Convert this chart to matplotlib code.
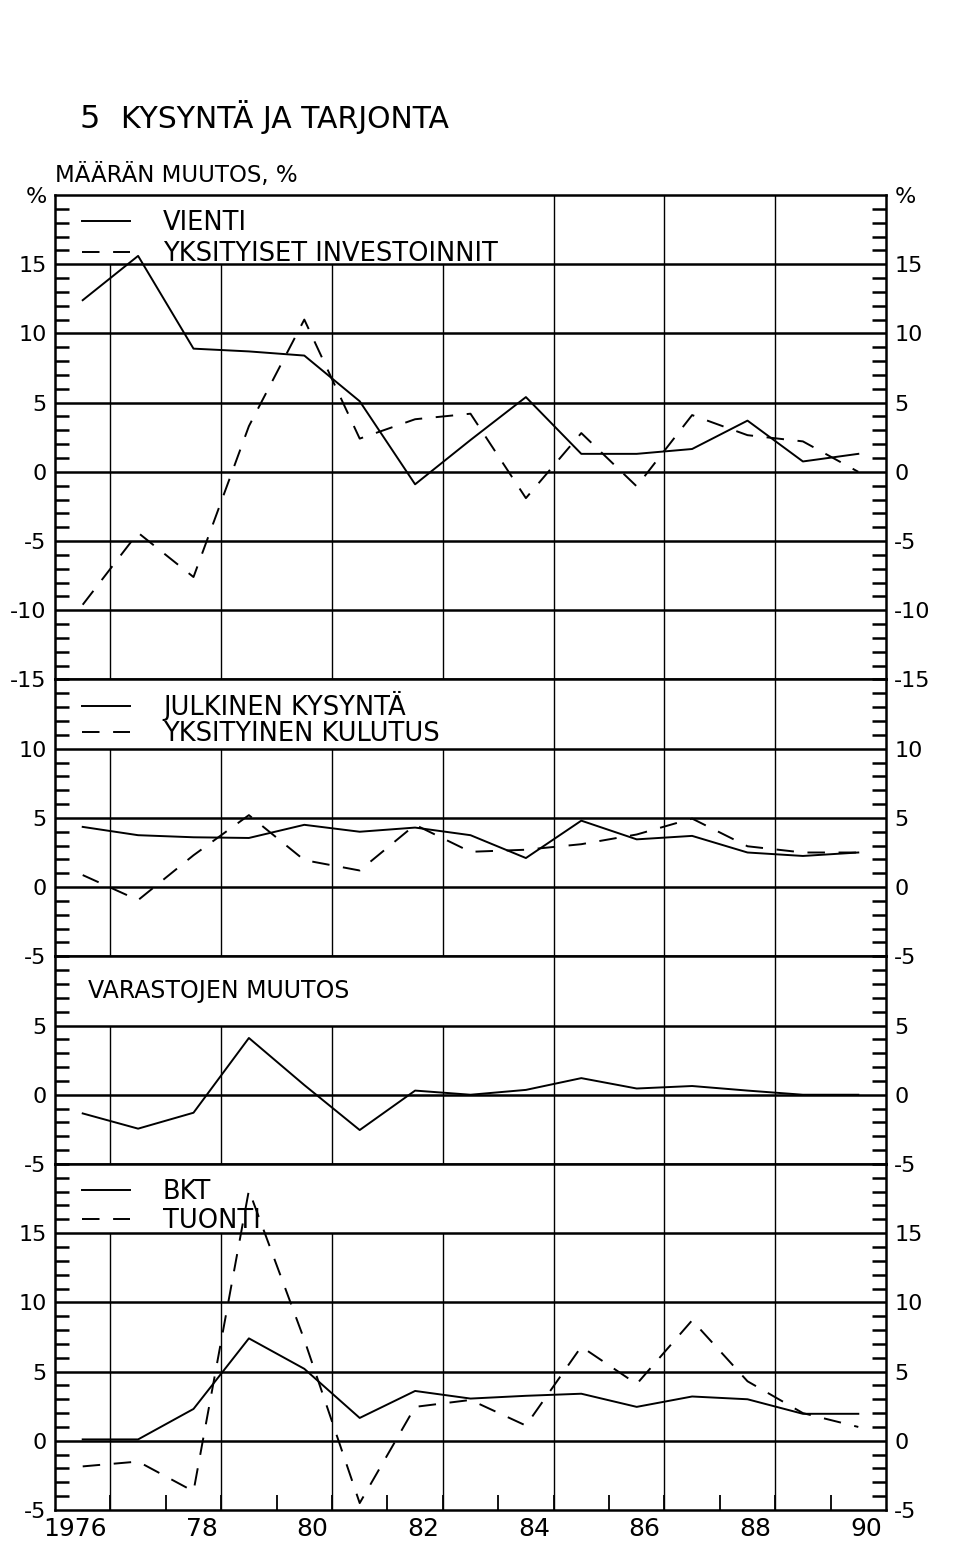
import matplotlib
matplotlib.use('Agg')
import matplotlib.pyplot as plt
import numpy as np
from matplotlib.transforms import ScaledTranslation

plt.rcParams['font.family'] = ['DejaVu Sans']
plt.rcParams['axes.unicode_minus'] = False

# vuodet 1976-1990, pisteet vuoden keskelle
vuodet = np.arange(1976, 1991)

vienti = [12.4, 15.6, 8.9, 8.7, 8.4, 5.1, -0.9, 2.3, 5.4, 1.3, 1.3, 1.65, 3.7, 0.75, 1.3]
investoinnit = [-9.6, -4.4, -7.6, 3.3, 11.0, 2.4, 3.8, 4.2, -1.9, 2.8, -1.05, 4.1, 2.65, 2.2, 0.0]

julkinen = [4.35, 3.75, 3.6, 3.55, 4.5, 4.0, 4.3, 3.75, 2.1, 4.8, 3.45, 3.7, 2.5, 2.25, 2.5]
kulutus = [0.87, -0.94, 2.3, 5.2, 1.95, 1.2, 4.5, 2.55, 2.7, 3.1, 3.8, 4.95, 2.95, 2.5, 2.5]

varastot = [-1.35, -2.45, -1.3, 4.1, 0.7, -2.55, 0.3, 0.0, 0.35, 1.2, 0.45, 0.63, 0.3, 0.0, 0.0]

bkt = [0.1, 0.1, 2.3, 7.4, 5.2, 1.65, 3.6, 3.05, 3.25, 3.4, 2.45, 3.2, 3.0, 1.95, 1.95]
tuonti = [-1.85, -1.5, -3.65, 18.1, 7.3, -4.5, 2.45, 2.95, 1.1, 6.8, 4.1, 8.7, 4.3, 2.0, 1.0]

vuosi_tekstit = ['1976', '78', '80', '82', '84', '86', '88', '90']

W, H = 960, 1543
fig = plt.figure(figsize=(W / 100, H / 100), dpi=100)
fig.patch.set_facecolor('white')

# paneelit: (alaraja, yläraja, ruudukon yläraja, viimeinen numeroitu arvo)
paneelit = [(-15, 20, 15, 15), (-5, 15, 10, 10), (-5, 10, 5, 5), (-5, 20, 15, 15)]
yla_px = 195.0
ala_px = 1510.0
px_yks = (ala_px - yla_px) / sum(p[1] - p[0] for p in paneelit)

katko = (0, (9, 7))
axes = []
top = yla_px
for i, (lo, hi, gtop, lab_top) in enumerate(paneelit):
    h = (hi - lo) * px_yks
    ax = fig.add_axes([55 / W, 1 - (top + h) / H, 831 / W, h / H])
    top += h
    axes.append(ax)
    ax.set_xlim(1976, 1991)
    ax.set_ylim(lo, hi)
    for s in ax.spines.values():
        s.set_linewidth(1.8)
    # vaakaviivat
    for v in range(lo + 5, hi, 5):
        ax.axhline(v, color='black', lw=1.8, zorder=1)
    # pystyviivat
    for xv in [1977, 1979, 1981, 1983]:
        ax.vlines(xv, lo, gtop, color='black', lw=1.0, zorder=1)
    for xv in [1985, 1987, 1989]:
        ax.vlines(xv, lo, hi, color='black', lw=1.0, zorder=1)
    major = list(range(lo, lab_top + 1, 5))
    labels = [str(v) for v in major]
    if i == 0:
        major.append(20)
        labels.append('%')
    ax.set_yticks(major)
    ax.set_yticklabels(labels)
    ax.set_yticks(range(lo, hi + 1), minor=True)
    ax.tick_params(axis='y', which='major', length=0, labelsize=16, pad=6,
                   left=True, right=True, labelleft=True, labelright=True)
    ax.tick_params(axis='y', which='minor', direction='in', length=10, width=1.8,
                   left=True, right=True)
    if i < 3:
        ax.tick_params(axis='x', which='both', bottom=False, labelbottom=False)

ax1, ax2, ax3, ax4 = axes
x = vuodet + 0.5

l1, = ax1.plot(x, vienti, color='black', lw=1.4, zorder=3)
l2, = ax1.plot(x, investoinnit, color='black', lw=1.4, ls=katko, zorder=3)
ax1.legend([l1, l2], ['VIENTI', 'YKSITYISET INVESTOINNIT'], loc='upper left',
           bbox_to_anchor=(82 / W, 1 - 210 / H), bbox_transform=fig.transFigure,
           frameon=False, fontsize=18.5, borderpad=0, borderaxespad=0,
           handlelength=1.85, handletextpad=1.3, labelspacing=0.2)

l3, = ax2.plot(x, julkinen, color='black', lw=1.4, zorder=3)
l4, = ax2.plot(x, kulutus, color='black', lw=1.4, ls=katko, zorder=3)
ax2.legend([l3, l4], ['JULKINEN KYSYNTÄ', 'YKSITYINEN KULUTUS'], loc='upper left',
           bbox_to_anchor=(82 / W, 1 - 691 / H), bbox_transform=fig.transFigure,
           frameon=False, fontsize=18.5, borderpad=0, borderaxespad=0,
           handlelength=1.85, handletextpad=1.3, labelspacing=0.0)

ax3.plot(x, varastot, color='black', lw=1.4, zorder=3)
ax3.text(33 / 831, 0.835, 'VARASTOJEN MUUTOS', transform=ax3.transAxes,
         fontsize=17, va='center', ha='left')

l5, = ax4.plot(x, bkt, color='black', lw=1.4, zorder=3)
l6, = ax4.plot(x, tuonti, color='black', lw=1.4, ls=katko, zorder=3)
ax4.legend([l5, l6], ['BKT', 'TUONTI'], loc='upper left',
           bbox_to_anchor=(82 / W, 1 - 1179 / H), bbox_transform=fig.transFigure,
           frameon=False, fontsize=18.5, borderpad=0, borderaxespad=0,
           handlelength=1.85, handletextpad=1.3, labelspacing=0.1)

# vuosiakseli
ax4.set_xticks(vuodet[::2] + 0.5)
ax4.set_xticklabels(vuosi_tekstit)
ax4.set_xticks(np.arange(1977, 1991), minor=True)
ax4.tick_params(axis='x', which='major', length=0, labelsize=18, pad=5)
ax4.tick_params(axis='x', which='minor', direction='in', length=11, width=1.3)
for j, lab in enumerate(ax4.get_xticklabels()):
    dx = -8 if j == 0 else 8
    lab.set_transform(lab.get_transform() + ScaledTranslation(dx / 100, 0, fig.dpi_scale_trans))

# otsikot
fig.text(80 / W, 1 - 128 / H, '5', fontsize=23, va='baseline')
fig.text(121 / W, 1 - 128 / H, 'KYSYNTÄ JA TARJONTA', fontsize=21.5, va='baseline')
fig.text(55 / W, 1 - 182 / H, 'MÄÄRÄN MUUTOS, %', fontsize=16.5, va='baseline')

fig.savefig('out.png', dpi=100, facecolor='white')
